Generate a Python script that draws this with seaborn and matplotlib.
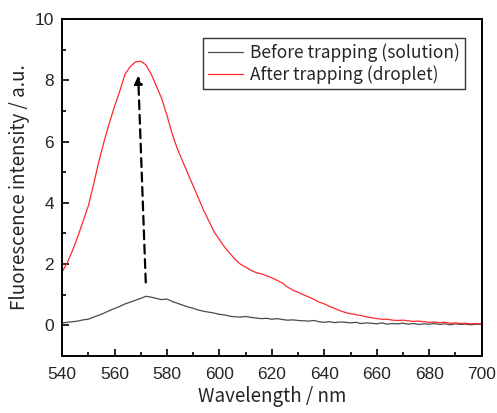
import numpy as np
import pandas as pd
import matplotlib
matplotlib.use("Agg")
import matplotlib.pyplot as plt
from matplotlib.ticker import MultipleLocator
import seaborn as sns

# wavelength grid (nm), every 2 nm
wavelength = list(range(540, 701, 2))

# before trapping (solution) - grey trace
before = [0.08, 0.10, 0.12, 0.14, 0.18, 0.20, 0.27, 0.33, 0.40, 0.48,
          0.55, 0.62, 0.70, 0.76, 0.82, 0.88, 0.95, 0.92, 0.88, 0.84,
          0.86, 0.78, 0.72, 0.66, 0.60, 0.56, 0.50, 0.46, 0.43, 0.40,
          0.36, 0.34, 0.30, 0.28, 0.27, 0.29, 0.26, 0.24, 0.22, 0.23,
          0.20, 0.22, 0.19, 0.17, 0.18, 0.16, 0.15, 0.14, 0.16, 0.12,
          0.10, 0.12, 0.09, 0.11, 0.10, 0.08, 0.10, 0.06, 0.08, 0.07,
          0.05, 0.08, 0.04, 0.06, 0.05, 0.07, 0.04, 0.06, 0.03, 0.05,
          0.04, 0.06, 0.03, 0.05, 0.02, 0.05, 0.03, 0.04, 0.02, 0.04,
          0.03]

# after trapping (droplet) - red trace
after = [1.75, 2.05, 2.45, 2.90, 3.40, 3.90, 4.60, 5.35, 6.00, 6.60,
         7.15, 7.65, 8.20, 8.45, 8.60, 8.62, 8.50, 8.20, 7.80, 7.40,
         6.85, 6.25, 5.75, 5.35, 4.95, 4.55, 4.15, 3.75, 3.40, 3.05,
         2.80, 2.55, 2.35, 2.15, 2.00, 1.90, 1.80, 1.72, 1.68, 1.62,
         1.55, 1.47, 1.38, 1.25, 1.15, 1.08, 1.00, 0.93, 0.85, 0.76,
         0.70, 0.62, 0.55, 0.48, 0.42, 0.38, 0.35, 0.32, 0.28, 0.25,
         0.22, 0.20, 0.20, 0.17, 0.16, 0.17, 0.15, 0.13, 0.14, 0.12,
         0.10, 0.11, 0.09, 0.10, 0.07, 0.08, 0.06, 0.07, 0.05, 0.06,
         0.05]

labels = ["Before trapping (solution)", "After trapping (droplet)"]
colors = ["#4a4a4a", "#ff2a2a"]

# arrow from grey peak to red peak
arrow_start = (571.9, 1.4)
arrow_end = (569.0, 8.15)

df = pd.concat([
    pd.DataFrame({"wl": wavelength, "I": before, "s": labels[0]}),
    pd.DataFrame({"wl": wavelength, "I": after, "s": labels[1]}),
])

sns.set_style("white")
plt.rcParams["font.family"] = ["Liberation Sans", "DejaVu Sans"]
jp = ["Noto Sans CJK JP", "DejaVu Sans"]

fig = plt.figure(figsize=(4.97, 4.13), dpi=100)
ax = fig.add_axes([0.125, 0.138, 0.844, 0.816])

sns.lineplot(data=df, x="wl", y="I", hue="s", palette=colors,
             linewidth=0.9, ax=ax)

ax.annotate("", xy=arrow_end, xytext=arrow_start,
            arrowprops=dict(arrowstyle="-|>", color="black", lw=1.6,
                            linestyle=(0, (4, 2.5)), mutation_scale=12,
                            shrinkA=0, shrinkB=0))

ax.set_xlim(540, 700)
ax.set_ylim(-1, 10)
ax.xaxis.set_major_locator(MultipleLocator(20))
ax.xaxis.set_minor_locator(MultipleLocator(10))
ax.yaxis.set_major_locator(MultipleLocator(2))
ax.yaxis.set_minor_locator(MultipleLocator(1))
ax.tick_params(which="both", direction="in", bottom=True, left=True,
               labelsize=12.5, width=1.2, color="black")
ax.tick_params(which="major", length=5)
ax.tick_params(axis="x", which="major", pad=8)
ax.tick_params(axis="y", which="major", pad=6)
ax.tick_params(which="minor", length=3)
for sp in ax.spines.values():
    sp.set_linewidth(1.4)
    sp.set_color("black")

ax.set_xlabel("Wavelength / nm", fontsize=13.5, family=jp, labelpad=3)
ax.set_ylabel("Fluorescence intensity / a.u.", fontsize=13.5, family=jp,
              labelpad=3)

leg = ax.legend(loc="upper right", bbox_to_anchor=(0.96, 0.944),
                borderaxespad=0, fancybox=False, framealpha=1,
                edgecolor="#333333", prop={"family": jp, "size": 12.5},
                handlelength=2.0, handletextpad=0.4, labelspacing=0.2,
                borderpad=0.3)
leg.get_frame().set_linewidth(1.0)
for line in leg.get_lines():
    line.set_linewidth(0.9)

fig.savefig("out.png", dpi=100)
